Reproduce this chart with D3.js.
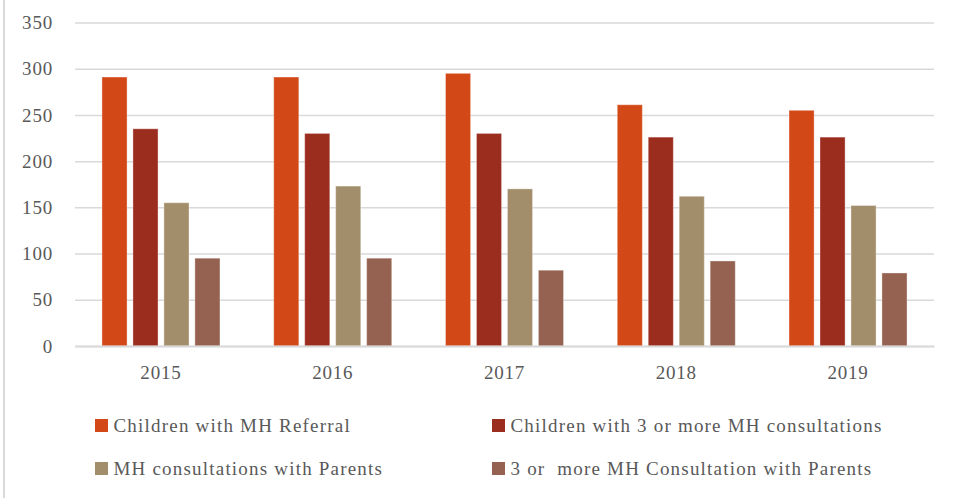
<!DOCTYPE html>
<html>
<head>
<meta charset="utf-8">
<script src="https://cdn.jsdelivr.net/npm/d3@7"></script>
<style>
  body { margin: 0; background: #fff; }
  text { font-family: "Liberation Serif", "DejaVu Serif", serif; fill: #595959; }
</style>
</head>
<body>
<div id="chart-div"></div>
<script>
const WIDTH = 953;
const HEIGHT = 498;

const years = ['2015', '2016', '2017', '2018', '2019'];
const seriesNames = [
  'Children with MH Referral',
  'Children with 3 or more MH consultations',
  'MH consultations with Parents',
  '3 or  more MH Consultation with Parents'
];
const referral = [291, 291, 295, 261, 255];
const threePlus = [235, 230, 230, 226, 226];
const parents = [155, 173, 170, 162, 152];
const threePlusParents = [95, 95, 82, 92, 79];
const yTicks = [0, 50, 100, 150, 200, 250, 300, 350];
const colors = ['#D34817', '#9B2D1F', '#A28E6A', '#956251'];

const seriesValues = [referral, threePlus, parents, threePlusParents];

let svg = d3.select('#chart-div')
  .append('svg')
  .attr('width', WIDTH)
  .attr('height', HEIGHT);

// left frame edge
svg.append('line')
  .attr('x1', 4).attr('x2', 4)
  .attr('y1', 0).attr('y2', HEIGHT)
  .attr('stroke', '#d9d9d9')
  .attr('stroke-width', 2);

const yScale = d3.scaleLinear()
  .domain([0, 350])
  .range([346, 22.5]);

const x0 = d3.scaleBand()
  .domain(years)
  .range([75, 934])
  .paddingInner(0.313)
  .paddingOuter(0.157);

const x1 = d3.scaleBand()
  .domain(d3.range(seriesNames.length))
  .range([0, x0.bandwidth()])
  .paddingInner(0.19)
  .paddingOuter(0);

// gridlines + y labels
let yAxis = svg.append('g')
  .attr('transform', 'translate(75,0)')
  .call(d3.axisLeft(yScale).tickValues(yTicks).tickSize(-(934 - 75)).tickPadding(22));

yAxis.select('.domain').remove();
yAxis.selectAll('.tick line')
  .attr('stroke', '#d9d9d9')
  .attr('stroke-width', 1.5);
yAxis.selectAll('.tick text')
  .attr('font-size', 19)
  .attr('letter-spacing', 0.8)
  .attr('fill', '#595959');

// bars
let groups = svg.append('g')
  .selectAll('g')
  .data(years)
  .join('g')
  .attr('transform', d => `translate(${x0(d)},0)`);

groups.selectAll('rect')
  .data((d, i) => seriesValues.map((s, k) => ({ k: k, v: s[i] })))
  .join('rect')
  .attr('x', d => x1(d.k))
  .attr('y', d => yScale(d.v))
  .attr('width', x1.bandwidth())
  .attr('height', d => yScale(0) - yScale(d.v))
  .attr('fill', d => colors[d.k])
  .attr('stroke', '#ffffff')
  .attr('stroke-opacity', 0.35)
  .attr('stroke-width', 1);

// x labels
let xAxis = svg.append('g')
  .attr('transform', 'translate(0,346)')
  .call(d3.axisBottom(x0).tickSize(0).tickPadding(20));

xAxis.select('.domain')
  .attr('stroke', '#d9d9d9')
  .attr('stroke-width', 2);
xAxis.selectAll('.tick text')
  .attr('font-size', 19)
  .attr('letter-spacing', 0.8)
  .attr('fill', '#595959');

// legend
const legendPos = [[95, 419], [492, 419], [95, 462], [492, 462]];

let legend = svg.append('g')
  .selectAll('g')
  .data(seriesNames)
  .join('g')
  .attr('transform', (d, i) => `translate(${legendPos[i][0]},${legendPos[i][1]})`);

legend.append('rect')
  .attr('width', 13)
  .attr('height', 13)
  .attr('fill', (d, i) => colors[i]);

legend.append('text')
  .attr('x', 18.5)
  .attr('y', 6.5)
  .attr('dy', '0.35em')
  .attr('font-size', 19)
  .attr('letter-spacing', 1.2)
  .style('white-space', 'pre')
  .text(d => d);
</script>
</body>
</html>
